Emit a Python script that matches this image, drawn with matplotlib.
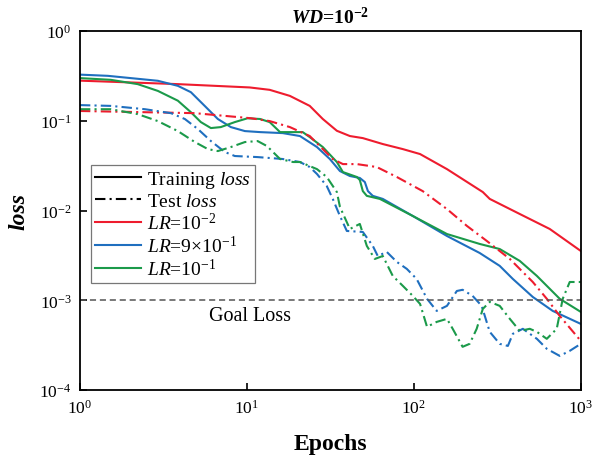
import matplotlib
matplotlib.use('Agg')
import matplotlib.pyplot as plt
from matplotlib.lines import Line2D

plt.rcParams['font.family'] = 'Liberation Serif'
plt.rcParams['mathtext.fontset'] = 'custom'
plt.rcParams['mathtext.rm'] = 'Liberation Serif'
plt.rcParams['mathtext.it'] = 'Liberation Serif:italic'
plt.rcParams['mathtext.bf'] = 'Liberation Serif:bold'
plt.rcParams['mathtext.bfit'] = 'Liberation Serif:italic:bold'

# ---- data ----
# LR = 1e-2 (red)
red_train_ep = [1, 3.86, 10.4, 13.7, 18.1, 23.8, 28.5, 34.6, 41.4, 49.5, 65.2, 85.9,
                109, 158, 259, 285, 431, 652, 1000]
red_train = [0.281, 0.257, 0.236, 0.222, 0.190, 0.147, 0.105, 0.0776, 0.0678, 0.0643,
             0.0552, 0.0485, 0.0427, 0.0290, 0.0161, 0.0135, 0.00917, 0.00624, 0.00355]
red_test_ep = [1, 4.88, 10.6, 13.7, 18.1, 23.8, 28.5, 32.7, 37.6, 45.6, 60.0, 79.1,
               113, 158, 208, 274, 376, 516, 626, 748, 1000]
red_test = [0.129, 0.122, 0.107, 0.0995, 0.0853, 0.0678, 0.0485, 0.0376, 0.0330, 0.0330,
            0.0306, 0.0237, 0.0165, 0.0104, 0.00675, 0.00458, 0.00289, 0.00160, 0.00104,
            0.000670, 0.000353]

# LR = 9e-1 (blue)
blue_train_ep = [1, 1.47, 2.93, 3.86, 4.62, 5.61, 6.70, 8.02, 9.73, 12.0, 16.4, 20.8,
                 26.3, 31.4, 36.1, 41.4, 47.5, 50.9, 53.1, 56.8, 65.2, 98.6, 158, 248,
                 327, 392, 516, 679, 1000]
blue_train = [0.328, 0.318, 0.280, 0.246, 0.209, 0.146, 0.105, 0.0853, 0.0770, 0.0750,
              0.0731, 0.0678, 0.0511, 0.0376, 0.0276, 0.0243, 0.0231, 0.0208, 0.0165,
              0.0146, 0.0135, 0.00871, 0.00521, 0.00337, 0.00242, 0.00173, 0.00109,
              0.000762, 0.000546]
blue_test_ep = [1, 1.53, 2.45, 3.51, 4.25, 5.09, 6.09, 7.38, 8.47, 11.6, 16.4, 20.8,
                23.8, 26.3, 30.1, 32.7, 36.1, 39.7, 49.5, 56.8, 60.8, 68.9, 79.1, 90.8,
                104, 120, 137, 158, 181, 196, 225, 255, 285, 327, 366, 392, 450, 546,
                626, 748, 859, 1000]
blue_test = [0.150, 0.147, 0.135, 0.122, 0.105, 0.0811, 0.0596, 0.0450, 0.0406, 0.0395,
             0.0376, 0.0348, 0.0306, 0.0256, 0.0188, 0.0135, 0.00871, 0.00593, 0.00578,
             0.00404, 0.00312, 0.00346, 0.00268, 0.00224, 0.00173, 0.00104, 0.000762,
             0.000867, 0.00127, 0.00131, 0.00112, 0.000867, 0.000445, 0.000327,
             0.000310, 0.000423, 0.000481, 0.000372, 0.000288, 0.000240, 0.000273,
             0.000327]

# LR = 1e-1 (green)
green_train_ep = [1, 1.53, 2.22, 2.93, 3.86, 4.62, 5.30, 6.09, 6.98, 8.47, 10.1, 12.0,
                  13.7, 15.8, 18.1, 21.6, 23.8, 28.5, 34.6, 37.6, 45.6, 47.5, 49.5, 52.3,
                  62.6, 98.6, 158, 248, 327, 431, 546, 748, 1000]
green_train = [0.300, 0.287, 0.257, 0.216, 0.168, 0.125, 0.0970, 0.0832, 0.0853, 0.0970,
               0.107, 0.105, 0.0970, 0.0750, 0.0750, 0.0750, 0.0660, 0.0511, 0.0348,
               0.0269, 0.0237, 0.0219, 0.0165, 0.0146, 0.0135, 0.00871, 0.00548, 0.00425,
               0.00373, 0.00275, 0.00187, 0.00104, 0.000743]
green_test_ep = [1, 1.53, 2.22, 2.93, 3.86, 4.88, 5.84, 6.70, 8.02, 9.73, 11.6, 13.2,
                 15.8, 18.9, 20.8, 26.3, 30.1, 34.6, 36.1, 41.4, 47.5, 52.3, 58.4, 65.2,
                 74.8, 85.9, 98.6, 109, 120, 137, 158, 171, 196, 216, 238, 259, 285, 327,
                 376, 431, 495, 546, 626, 718, 780, 859, 1000]
green_test = [0.135, 0.135, 0.119, 0.0995, 0.0770, 0.0581, 0.0485, 0.0461, 0.0511, 0.0581,
              0.0596, 0.0524, 0.0376, 0.0348, 0.0348, 0.0290, 0.0237, 0.0161, 0.0110,
              0.00624, 0.00710, 0.00404, 0.00289, 0.00312, 0.00187, 0.00145, 0.00112,
              0.000912, 0.000506, 0.000574, 0.000621, 0.000481, 0.000303, 0.000327,
              0.000481, 0.000802, 0.000960, 0.000867, 0.000621, 0.000456, 0.000481,
              0.000445, 0.000372, 0.000481, 0.00104, 0.00160, 0.00160]

goal_loss = 1e-3

RED = '#ee1c2e'
BLUE = '#1f6fbf'
GREEN = '#1b9a4a'
DASHDOT = (0, (5, 2, 1, 2))

fig = plt.figure(figsize=(5.92, 4.60), dpi=100)
ax = fig.add_axes([0.135, 0.15, 0.846, 0.78])

ax.plot(red_train_ep, red_train, color=RED, lw=1.5)
ax.plot(blue_train_ep, blue_train, color=BLUE, lw=1.5)
ax.plot(green_train_ep, green_train, color=GREEN, lw=1.5)
ax.plot(red_test_ep, red_test, color=RED, lw=1.5, ls=DASHDOT)
ax.plot(blue_test_ep, blue_test, color=BLUE, lw=1.5, ls=DASHDOT)
ax.plot(green_test_ep, green_test, color=GREEN, lw=1.5, ls=DASHDOT)

ax.axhline(goal_loss, color='#555555', lw=1.1, ls=(0, (4, 2.5)))
ax.text(10.4, 6.7e-4, 'Goal Loss', fontsize=14.5, ha='center', va='center')

ax.set_xscale('log')
ax.set_yscale('log')
ax.set_xlim(1, 1000)
ax.set_ylim(1e-4, 1)
ax.minorticks_off()
ax.tick_params(which='major', direction='in', length=5, width=1.2, labelsize=12.5,
               top=False, right=False, pad=6)
for s in ax.spines.values():
    s.set_linewidth(1.3)

# title: italic WD, bold rest, no extra spacing round '='
ax.set_title(r'$\mathbfit{WD}$=10$^{\mathbf{-2}}$', fontsize=14, fontweight='bold', pad=6)
ax.set_xlabel('Epochs', fontsize=17, fontweight='bold', labelpad=12)
ax.set_ylabel('loss', fontsize=17, fontweight='bold', fontstyle='italic', labelpad=7)

handles = [
    Line2D([], [], color='black', lw=1.5),
    Line2D([], [], color='black', lw=1.5, ls=DASHDOT),
    Line2D([], [], color=RED, lw=1.5),
    Line2D([], [], color=BLUE, lw=1.5),
    Line2D([], [], color=GREEN, lw=1.5),
]
labels = [r'Training $\mathit{loss}$', r'Test $\mathit{loss}$',
          r'$\mathit{LR}$=10$^{-2}$', r'$\mathit{LR}$=9×10$^{-1}$',
          r'$\mathit{LR}$=10$^{-1}$']
leg = ax.legend(handles, labels, loc='lower left', bbox_to_anchor=(0.022, 0.298),
                borderaxespad=0, fontsize=14, frameon=True, fancybox=False,
                edgecolor='#777777', framealpha=1, handlelength=2.4,
                handletextpad=0.3, labelspacing=0.1, borderpad=0.2)
leg.get_frame().set_linewidth(0.9)

fig.savefig('out.png', dpi=100)
